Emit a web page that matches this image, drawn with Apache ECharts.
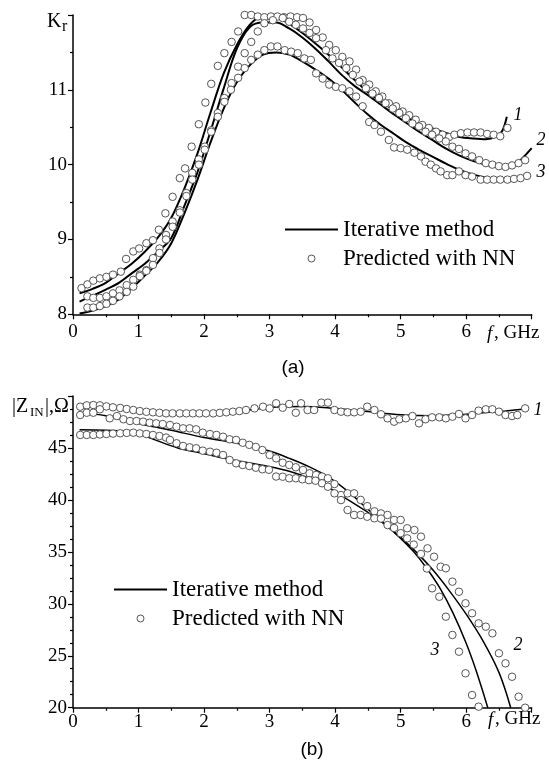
<!DOCTYPE html>
<html><head><meta charset="utf-8">
<script src="https://cdn.jsdelivr.net/npm/echarts@6/dist/echarts.min.js"></script>
<style>html,body{margin:0;padding:0;background:#fff}#c{width:549px;height:760px}</style>
</head><body><div id="c"></div>
<script>
// ---------- Chart (a): Kr vs f ----------
const aCurve1X = [0.1,0.3,0.5,0.7,0.9,1.1,1.3,1.5,1.7,1.9,2.1,2.3,2.5,2.7,2.9,3.1,3.3,3.5,3.7,3.9,4.1,4.3,4.5,4.7,4.9,5.1,5.3,5.5,5.7,5.9,6.1,6.3,6.45,6.55,6.62];
const aCurve1Y = [8.28,8.34,8.42,8.55,8.68,8.84,9.03,9.29,9.68,10.15,10.7,11.22,11.6,11.87,11.99,11.97,11.88,11.76,11.62,11.47,11.3,11.13,10.97,10.84,10.73,10.63,10.55,10.48,10.42,10.37,10.35,10.34,10.37,10.45,10.64];
const aCurve2X = [0.1,0.3,0.5,0.7,0.9,1.1,1.3,1.5,1.7,1.9,2.1,2.3,2.5,2.7,2.9,3.1,3.3,3.5,3.7,3.9,4.1,4.3,4.5,4.7,4.9,5.1,5.3,5.5,5.7,5.9,6.1,6.3,6.5,6.7,6.85,7.0];
const aCurve2Y = [8.17,8.25,8.33,8.42,8.55,8.68,8.84,9.02,9.45,9.9,10.45,11.02,11.55,11.84,11.9,11.9,11.82,11.7,11.55,11.38,11.2,11.05,10.93,10.8,10.67,10.55,10.43,10.32,10.21,10.12,10.05,10.0,9.97,9.98,10.08,10.22];
const aCurve3X = [0.1,0.3,0.5,0.7,0.9,1.1,1.3,1.5,1.7,1.9,2.1,2.3,2.5,2.7,2.9,3.1,3.3,3.5,3.7,3.9,4.1,4.3,4.5,4.7,4.9,5.1,5.3,5.5,5.7,5.9,6.1,6.3,6.5,6.7,6.85];
const aCurve3Y = [8.01,8.05,8.11,8.2,8.35,8.52,8.7,8.95,9.35,9.8,10.3,10.75,11.1,11.33,11.47,11.5,11.47,11.38,11.27,11.15,11.0,10.83,10.67,10.53,10.41,10.29,10.19,10.1,10.01,9.93,9.87,9.83,9.81,9.8,9.8];

const aNN1X = [0.13,0.22,0.31,0.41,0.51,0.61,0.73,0.81,0.92,1.01,1.12,1.22,1.31,1.41,1.52,1.63,1.71,1.81,1.92,2.02,2.11,2.21,2.31,2.42,2.52,2.62,2.72,2.82,2.92,3.02,3.12,3.22,3.32,3.42,3.51,3.61,3.71,3.81,3.91,4.01,4.11,4.22,4.32,4.42,4.52,4.62,4.72,4.82,4.93,5.03,5.13,5.23,5.33,5.43,5.54,5.64,5.74,5.82,5.92,6.02,6.12,6.22,6.32,6.42,6.52,6.63];
const aNN1Y = [8.35,8.40,8.45,8.48,8.50,8.53,8.57,8.74,8.84,8.88,8.95,8.99,9.13,9.35,9.57,9.82,9.95,10.24,10.54,10.83,11.08,11.32,11.49,11.64,11.78,12.0,12.0,11.98,11.97,11.98,11.98,11.97,11.98,11.97,11.96,11.9,11.8,11.7,11.6,11.53,11.44,11.38,11.27,11.13,11.07,10.98,10.91,10.82,10.78,10.71,10.66,10.6,10.53,10.49,10.44,10.4,10.37,10.40,10.42,10.43,10.43,10.43,10.41,10.40,10.38,10.49];
const aNN2X = [0.22,0.31,0.41,0.51,0.61,0.71,0.82,0.92,1.02,1.12,1.22,1.32,1.42,1.52,1.63,1.73,1.82,1.92,2.01,2.11,2.21,2.31,2.42,2.52,2.62,2.72,2.82,2.92,3.05,3.2,3.3,3.4,3.51,3.61,3.71,3.86,3.96,4.06,4.17,4.27,4.37,4.47,4.57,4.67,4.77,4.88,4.98,5.08,5.18,5.28,5.38,5.48,5.59,5.69,5.79,5.89,5.99,6.09,6.2,6.3,6.4,6.5,6.6,6.7,6.8,6.9];
const aNN2Y = [8.24,8.22,8.22,8.24,8.28,8.32,8.39,8.46,8.53,8.59,8.75,8.88,9.06,9.24,9.39,9.62,9.89,10.07,10.24,10.46,10.69,10.89,11.09,11.31,11.49,11.64,11.78,11.89,11.93,11.96,11.91,11.87,11.82,11.76,11.69,11.53,11.42,11.36,11.29,11.2,11.11,11.02,10.95,10.89,10.82,10.75,10.69,10.62,10.55,10.51,10.44,10.40,10.35,10.31,10.24,10.21,10.15,10.11,10.06,10.02,10.0,9.98,9.97,9.99,10.02,10.06];
const aNN3X = [0.22,0.31,0.41,0.51,0.61,0.71,0.82,0.92,1.02,1.12,1.22,1.32,1.42,1.52,1.63,1.73,1.82,1.92,2.01,2.11,2.21,2.31,2.41,2.52,2.62,2.72,2.82,2.92,3.02,3.12,3.23,3.33,3.43,3.53,3.63,3.71,3.81,3.91,4.01,4.11,4.22,4.32,4.42,4.52,4.60,4.70,4.82,4.90,5.00,5.10,5.21,5.31,5.38,5.46,5.54,5.61,5.71,5.79,5.89,5.99,6.09,6.22,6.32,6.42,6.52,6.63,6.73,6.83,6.93];
const aNN3Y = [8.09,8.09,8.11,8.14,8.18,8.24,8.30,8.37,8.51,8.58,8.66,8.82,9.0,9.17,9.36,9.58,9.80,10.0,10.2,10.44,10.64,10.84,11.0,11.16,11.29,11.4,11.47,11.53,11.58,11.58,11.53,11.51,11.49,11.42,11.40,11.22,11.15,11.07,11.04,11.02,10.98,10.91,10.78,10.57,10.53,10.44,10.33,10.23,10.22,10.20,10.16,10.11,10.04,10.0,9.95,9.91,9.86,9.86,9.91,9.86,9.84,9.80,9.80,9.80,9.80,9.80,9.81,9.82,9.85];

// ---------- Chart (b): |Z_IN| vs f ----------
const bCurve1X = [0.1,0.5,1.0,1.5,2.0,2.5,3.0,3.5,4.0,4.5,5.0,5.5,6.0,6.5,6.9];
const bCurve1Y = [48.95,48.95,48.6,48.35,48.3,48.5,48.9,49.0,48.8,48.5,48.2,48.1,48.25,48.5,48.75];
const bCurve2X = [0.1,0.5,1.0,1.5,2.0,2.5,3.0,3.3,3.6,3.9,4.2,4.5,4.75,5.0,5.25,5.5,5.75,6.0,6.25,6.5,6.68];
const bCurve2Y = [48.4,48.1,47.35,46.7,46.0,45.45,44.7,44.0,43.2,42.2,40.8,39.1,37.7,36.4,34.9,33.2,31.2,29.0,26.5,23.4,20.0];
const bCurve3X = [0.1,0.5,0.9,1.2,1.6,2.0,2.4,2.7,3.0,3.3,3.6,3.9,4.2,4.5,4.75,5.0,5.2,5.4,5.6,5.8,6.0,6.15,6.33];
const bCurve3Y = [46.75,46.7,46.55,45.9,45.0,44.45,43.9,43.55,43.2,42.75,42.1,41.2,40.0,38.8,37.7,36.3,35.0,33.4,31.5,29.1,26.2,23.6,20.0];

const bNN1X = [0.11,0.21,0.31,0.41,0.51,0.61,0.72,0.82,0.92,1.02,1.12,1.22,1.32,1.42,1.52,1.63,1.73,1.83,1.93,2.03,2.14,2.24,2.34,2.44,2.54,2.64,2.77,2.90,3.00,3.10,3.20,3.30,3.40,3.48,3.58,3.68,3.79,3.89,3.99,4.09,4.19,4.29,4.39,4.49,4.60,4.70,4.80,4.90,4.98,5.08,5.18,5.28,5.38,5.48,5.59,5.69,5.79,5.89,5.99,6.09,6.19,6.30,6.40,6.50,6.60,6.70,6.78,6.90];
const bNN1Y = [48.97,49.1,49.13,49.1,49.0,48.91,48.85,48.75,48.65,48.55,48.48,48.43,48.38,48.33,48.33,48.33,48.33,48.33,48.33,48.33,48.33,48.38,48.43,48.49,48.55,48.65,48.81,48.97,48.81,49.30,48.87,49.23,48.39,49.30,48.65,48.65,49.36,49.36,48.65,48.49,48.43,48.43,48.49,48.97,48.65,48.24,47.85,47.53,47.76,47.85,48.07,47.37,47.76,47.95,47.95,47.85,48.01,48.27,47.85,48.17,48.59,48.72,48.72,48.49,48.17,48.07,48.17,48.81];
const bNN2X = [0.11,0.21,0.31,0.41,0.56,0.67,0.77,0.87,0.97,1.07,1.17,1.27,1.37,1.48,1.58,1.68,1.78,1.88,1.98,2.09,2.19,2.29,2.39,2.49,2.59,2.69,2.79,2.89,3.0,3.1,3.2,3.3,3.4,3.51,3.61,3.71,3.8,3.89,3.99,4.09,4.19,4.29,4.39,4.49,4.6,4.7,4.8,4.9,5.0,5.1,5.21,5.31,5.41,5.51,5.61,5.69,5.79,5.89,5.99,6.09,6.19,6.30,6.40,6.50,6.60,6.70,6.80,6.90];
const bNN2Y = [48.17,48.39,48.39,48.72,47.85,48.07,47.76,47.59,47.59,47.53,47.43,47.37,47.30,47.21,47.05,46.89,46.89,46.79,46.47,46.34,46.25,46.08,45.83,45.77,45.5,45.3,45.1,44.8,44.32,44.0,43.58,43.36,43.14,42.88,42.56,42.4,42.25,42.08,41.53,40.47,40.63,40.63,40.0,39.4,38.9,38.7,38.55,38.07,38.07,37.27,37.1,36.46,35.34,34.53,33.57,33.42,32.13,31.16,30.05,29.09,28.12,27.8,27.16,25.24,24.27,22.98,21.06,20.0];
const bNN3X = [0.11,0.21,0.31,0.41,0.51,0.61,0.72,0.82,0.92,1.02,1.12,1.22,1.32,1.42,1.48,1.58,1.68,1.78,1.88,1.98,2.09,2.19,2.29,2.39,2.49,2.59,2.69,2.79,2.89,2.99,3.1,3.2,3.3,3.4,3.5,3.6,3.7,3.8,3.89,3.99,4.09,4.19,4.29,4.39,4.49,4.6,4.7,4.8,4.9,5.0,5.1,5.2,5.31,5.4,5.48,5.59,5.69,5.79,5.89,5.99,6.09,6.19];
const bNN3Y = [46.25,46.25,46.25,46.3,46.34,46.38,46.41,46.45,46.47,46.4,46.34,46.25,46.15,46.0,45.77,45.45,45.19,45.06,44.97,44.74,44.64,44.54,44.32,43.84,43.52,43.36,43.26,43.1,42.95,42.9,42.25,42.23,42.08,42.08,41.98,41.9,41.85,41.6,41.27,40.63,39.98,39.03,38.55,38.55,38.38,38.23,38.2,37.58,37.3,36.8,36.3,35.7,34.8,33.4,31.49,30.68,28.76,27.0,25.39,23.31,21.22,20.1];

// tick settings
const xTicks = {min:0, max:7, interval:1};
const aYTicks = {min:8, max:12, interval:1};
const bYTicks = {min:20, max:50, interval:5};

const LINE_NAME = 'Iterative method';
const NN_NAME = 'Predicted with NN';
const SERIF = '"Liberation Serif", "Times New Roman", serif';
const SANS = '"Liberation Sans", Arial, sans-serif';

function pairs(xs, ys){ return xs.map((x,i)=>[x, ys[i]]); }

function xAxisOf(gridIndex){
  return {
    type:'value', gridIndex, min:xTicks.min, max:xTicks.max, interval:xTicks.interval,
    axisLine:{show:true, lineStyle:{color:'#000', width:1.5}},
    axisTick:{show:true, inside:false, length:5, lineStyle:{color:'#000', width:1.2}},
    minorTick:{show:true, splitNumber:2, length:3, lineStyle:{color:'#000', width:1.2}},
    splitLine:{show:false},
    axisLabel:{color:'#000', fontFamily:SERIF, fontSize:19, margin:gridIndex===0?8:5,
      formatter: v => v===xTicks.max ? '' : String(v)}
  };
}
function yAxisOf(gridIndex, t, minorSplit){
  return {
    type:'value', gridIndex, min:t.min, max:t.max, interval:t.interval,
    axisLine:{show:true, lineStyle:{color:'#000', width:1.5}},
    axisTick:{show:true, inside:false, length:5, lineStyle:{color:'#000', width:1.2}},
    minorTick:{show:true, splitNumber:minorSplit, length:3, lineStyle:{color:'#000', width:1.2}},
    splitLine:{show:false},
    axisLabel:{color:'#000', fontFamily:SERIF, fontSize:19, margin:6,
      formatter: v => v===t.max ? '' : String(v)}
  };
}
function lineSeries(gi, xs, ys, w){
  return {type:'line', name:LINE_NAME, xAxisIndex:gi, yAxisIndex:gi, data:pairs(xs,ys),
    smooth:0.35, symbol:'none', showSymbol:false, lineStyle:{color:'#000', width:w}, itemStyle:{color:'#000'},
    silent:true, z:3};
}
function nnSeries(gi, xs, ys){
  return {type:'scatter', name:NN_NAME, xAxisIndex:gi, yAxisIndex:gi, data:pairs(xs,ys),
    symbol:'circle', symbolSize:7.5, clip:false,
    itemStyle:{color:'#ffffff', borderColor:'#555', borderWidth:1, opacity:1},
    silent:true, z:4};
}
const legendCommon = {
  orient:'vertical', itemWidth:53, itemHeight:7, itemGap:6, selectedMode:false,
  data:[
    {name:LINE_NAME, itemStyle:{opacity:0}, lineStyle:{color:'#000', width:2, opacity:1}},
    {name:NN_NAME, itemStyle:{color:'#fff', borderColor:'#555', borderWidth:1}}
  ],
  textStyle:{fontFamily:SERIF, fontSize:23, color:'#000'}
};
const curveLbl = {fontFamily:SERIF, fontSize:18, fontStyle:'italic', fill:'#000'};

const option = {
  animation:false,
  backgroundColor:'#fff',
  grid:[
    {left:73, right:17.3, top:15, height:299.3},
    {left:73, right:17.3, top:396, height:311.7}
  ],
  xAxis:[xAxisOf(0), xAxisOf(1)],
  yAxis:[yAxisOf(0, aYTicks, 2), yAxisOf(1, bYTicks, 4)],
  legend:[
    Object.assign({left:279, top:213}, legendCommon),
    Object.assign({left:108, top:573}, legendCommon)
  ],
  series:[
    lineSeries(0, aCurve1X, aCurve1Y, 2),
    lineSeries(0, aCurve2X, aCurve2Y, 2),
    lineSeries(0, aCurve3X, aCurve3Y, 2),
    nnSeries(0, aNN1X, aNN1Y),
    nnSeries(0, aNN2X, aNN2Y),
    nnSeries(0, aNN3X, aNN3Y),
    lineSeries(1, bCurve1X, bCurve1Y, 1.5),
    lineSeries(1, bCurve2X, bCurve2Y, 1.5),
    lineSeries(1, bCurve3X, bCurve3Y, 1.5),
    nnSeries(1, bNN1X, bNN1Y),
    nnSeries(1, bNN2X, bNN2Y),
    nnSeries(1, bNN3X, bNN3Y)
  ],
  graphic:[
    // y-axis titles
    {type:'text', left:47, top:12, style:{text:'K', fontFamily:SERIF, fontSize:20, fill:'#000'}},
    {type:'text', left:62, top:19, style:{text:'r', fontFamily:SERIF, fontSize:16, fill:'#000'}},
    {type:'text', left:12, top:397, style:{text:'|Z', fontFamily:SERIF, fontSize:20, fill:'#000'}},
    {type:'text', left:30, top:406, style:{text:'IN', fontFamily:SERIF, fontSize:13, fill:'#000'}},
    {type:'text', left:45, top:397, style:{text:'|,\u03A9', fontFamily:SERIF, fontSize:20, fill:'#000'}},
    // x-axis titles
    {type:'text', left:487, top:324, style:{text:'f', fontFamily:SERIF, fontSize:19, fontStyle:'italic', fill:'#000'}},
    {type:'text', left:494, top:324, style:{text:', GHz', fontFamily:SERIF, fontSize:19, fill:'#000'}},
    {type:'text', left:488, top:710, style:{text:'f', fontFamily:SERIF, fontSize:19, fontStyle:'italic', fill:'#000'}},
    {type:'text', left:495, top:710, style:{text:', GHz', fontFamily:SERIF, fontSize:19, fill:'#000'}},
    // curve labels
    {type:'text', x:518, y:115, style:Object.assign({text:'1', align:'center', verticalAlign:'middle'}, curveLbl)},
    {type:'text', x:541, y:140, style:Object.assign({text:'2', align:'center', verticalAlign:'middle'}, curveLbl)},
    {type:'text', x:541, y:172, style:Object.assign({text:'3', align:'center', verticalAlign:'middle'}, curveLbl)},
    {type:'text', x:538, y:410, style:Object.assign({text:'1', align:'center', verticalAlign:'middle'}, curveLbl)},
    {type:'text', x:435, y:650, style:Object.assign({text:'3', align:'center', verticalAlign:'middle'}, curveLbl)},
    {type:'text', x:518, y:645, style:Object.assign({text:'2', align:'center', verticalAlign:'middle'}, curveLbl)},
    // captions
    {type:'text', x:293, y:368, style:{text:'(a)', fontFamily:SANS, fontSize:19, fill:'#000', align:'center', verticalAlign:'middle'}},
    {type:'text', x:312, y:750, style:{text:'(b)', fontFamily:SANS, fontSize:19, fill:'#000', align:'center', verticalAlign:'middle'}}
  ]
};
const chart = echarts.init(document.getElementById('c'), null, {renderer:'canvas'});
chart.setOption(option);
</script>
</body></html>
